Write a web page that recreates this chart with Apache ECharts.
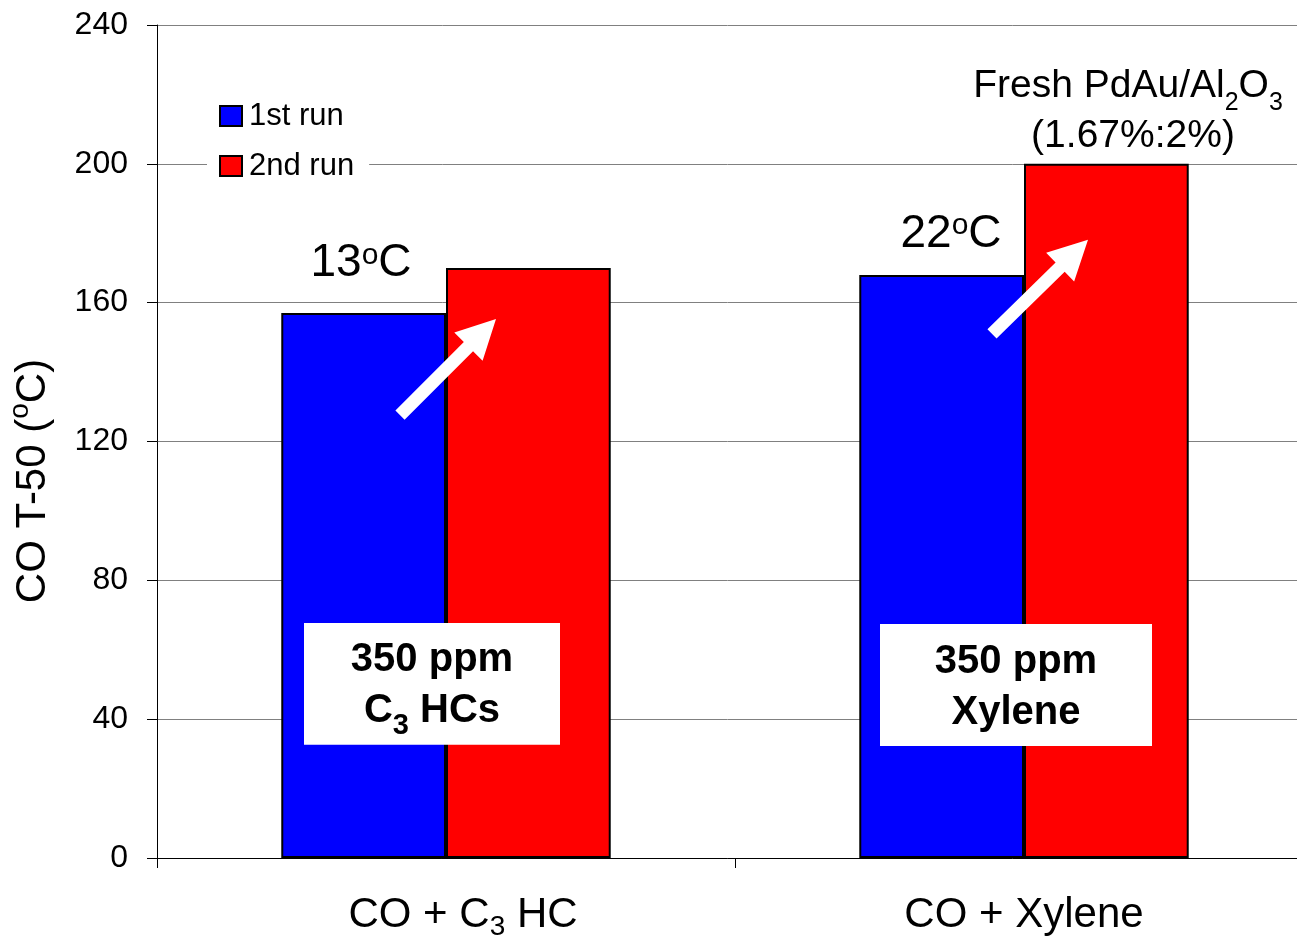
<!DOCTYPE html>
<html><head><meta charset="utf-8">
<script src="https://cdn.jsdelivr.net/npm/echarts@6/dist/echarts.min.js"></script>
<style>html,body{margin:0;padding:0;background:#fff}#c{width:1297px;height:938px}</style>
</head><body><div id="c"></div>
<script>
// ---- data ----
const categories = ['CO + C3 HC', 'CO + Xylene'];
const seriesNames = ['1st run', '2nd run'];
const run1 = [157, 168];
const run2 = [170, 200];
const yTicks = [0, 40, 80, 120, 160, 200, 240];
const deltaLabels = ['13', '22'];
const boxLines1 = ['350 ppm', '350 ppm'];
const boxLines2 = ['C3 HCs', 'Xylene'];
const noteLine1 = 'Fresh PdAu/Al2O3';
const noteLine2 = '(1.67%:2%)';

const FONT = '"Liberation Sans", Arial, Helvetica, sans-serif';

function subRich(v) {
  return '{m|' + v.replace(/([A-Za-z])(\d)/g, '$1}{s|$2}{m|') + '}';
}

const chart = echarts.init(document.getElementById('c'));
chart.setOption({
  animation: false,
  backgroundColor: '#fff',
  textStyle: { fontFamily: FONT, color: '#000' },
  grid: { left: 157, top: 25, width: 1156, height: 833, containLabel: false, outerBoundsMode: 'none' },
  legend: {
    orient: 'vertical', left: 207, top: 94, padding: [6, 15, 6, 12],
    backgroundColor: '#fff', itemWidth: 22, itemHeight: 20, itemGap: 18,
    icon: 'rect',
    textStyle: { fontSize: 31, color: '#000', fontFamily: FONT, lineHeight: 32, padding: [0, 0, 0, 2] },
    data: seriesNames
  },
  xAxis: {
    type: 'category', data: categories, boundaryGap: true,
    axisLine: { lineStyle: { color: '#000', width: 1 } },
    axisTick: { show: true, length: 10, interval: 0, lineStyle: { color: '#000' } },
    splitLine: { show: false },
    axisLabel: {
      interval: 0, margin: 31,
      formatter: function (v, i) { return (i === 0 ? '{g| }' : '') + subRich(v); },
      rich: {
        g: { width: 34, fontSize: 42, lineHeight: 52 },
        m: { fontSize: 42, lineHeight: 52, color: '#000', fontFamily: FONT },
        s: { fontSize: 28, color: '#000', fontFamily: FONT, padding: [24, 0, 0, 0] }
      }
    }
  },
  yAxis: {
    type: 'value', min: yTicks[0], max: yTicks[yTicks.length - 1], interval: yTicks[1] - yTicks[0],
    axisLine: { show: true, lineStyle: { color: '#000', width: 1 } },
    axisTick: { show: true, length: 10, lineStyle: { color: '#000' } },
    axisLabel: { fontSize: 32, color: '#000', margin: 29, fontFamily: FONT },
    splitLine: { show: true, lineStyle: { color: '#808080', width: 1 } }
  },
  series: [
    { name: seriesNames[0], type: 'bar', data: run1, barGap: '0%', barCategoryGap: '43%',
      itemStyle: { color: '#0000FF', borderColor: '#000', borderWidth: 2 } },
    { name: seriesNames[1], type: 'bar', data: run2, barGap: '0%', barCategoryGap: '43%',
      itemStyle: { color: '#FF0000', borderColor: '#000', borderWidth: 2 } }
  ]
});

// ---- annotations placed relative to the axes ----
function P(ci, dx, v) {
  const p = chart.convertToPixel({ xAxisIndex: 0, yAxisIndex: 0 }, [ci, v]);
  return [p[0] + dx, p[1]];
}
function arrow(a, b) {
  const dx = b[0] - a[0], dy = b[1] - a[1];
  const L = Math.sqrt(dx * dx + dy * dy);
  const ux = dx / L, uy = dy / L, nx = -uy, ny = ux;
  const hw = 6.5, hl = 39, hh = 20;
  const bx = b[0] - ux * hl, by = b[1] - uy * hl;
  return [
    [a[0] + nx * hw, a[1] + ny * hw], [bx + nx * hw, by + ny * hw], [bx + nx * hh, by + ny * hh],
    [b[0], b[1]],
    [bx - nx * hh, by - ny * hh], [bx - nx * hw, by - ny * hw], [a[0] - nx * hw, a[1] - ny * hw]
  ];
}
const g = [];
// y-axis title
g.push({
  type: 'text', x: 157 - 124, y: 481, rotation: Math.PI / 2, z: 100,
  style: {
    text: '{m|CO T-50 (}{o|o}{m|C)}', align: 'center', verticalAlign: 'middle',
    rich: {
      m: { fontSize: 42, fill: '#000', fontFamily: FONT },
      o: { fontSize: 28, fill: '#000', fontFamily: FONT, padding: [0, 0, 25, 0] }
    }
  }
});
const deltaPos = [[-85, 171.3], [-73, 179.8]];
const arrowPos = [[[-46, 127.6], [50, 155.3]], [[-32, 151.0], [64, 178.1]]];
const boxPos = [[-14, 256, 67.7, 32.6], [-8, 272, 67.4, 32.3]];
for (let i = 0; i < categories.length; i++) {
  const d = P(i, deltaPos[i][0], deltaPos[i][1]);
  g.push({
    type: 'text', x: d[0], y: d[1], z: 100,
    style: {
      text: '{m|' + deltaLabels[i] + '}{o|o}{m|C}', align: 'center', verticalAlign: 'middle',
      rich: {
        m: { fontSize: 46, fill: '#000', fontFamily: FONT },
        o: { fontSize: 30, fill: '#000', fontFamily: FONT, padding: [0, 0, 16, 0] }
      }
    }
  });
  const a = P(i, arrowPos[i][0][0], arrowPos[i][0][1]);
  const b = P(i, arrowPos[i][1][0], arrowPos[i][1][1]);
  g.push({ type: 'polygon', z: 100, shape: { points: arrow(a, b) }, style: { fill: '#fff' } });
  const bt = P(i, boxPos[i][0], boxPos[i][2]);
  const bb = P(i, boxPos[i][0], boxPos[i][3]);
  const w = boxPos[i][1];
  g.push({ type: 'rect', z: 100, shape: { x: bt[0] - w / 2, y: bt[1], width: w, height: bb[1] - bt[1] }, style: { fill: '#fff' } });
  g.push({
    type: 'text', x: bt[0], y: (bt[1] + bb[1]) / 2 + 2, z: 101,
    style: {
      text: subRich(boxLines1[i]).replace(/\{m\|/g, '{b|') + '\n' + subRich(boxLines2[i]).replace(/\{m\|/g, '{b|').replace(/\{s\|/g, '{bs|'),
      align: 'center', verticalAlign: 'middle',
      rich: {
        b: { fontSize: 40, fontWeight: 'bold', fill: '#000', fontFamily: FONT, lineHeight: 51 },
        bs: { fontSize: 29, fontWeight: 'bold', fill: '#000', fontFamily: FONT, lineHeight: 22, padding: [29, 0, 0, 0] }
      }
    }
  });
}
// catalyst note
const n1 = P(1, 104, 222.4), n2 = P(1, 109, 208.0);
g.push({
  type: 'text', x: n1[0], y: n1[1], z: 100,
  style: {
    text: subRich(noteLine1), align: 'center', verticalAlign: 'middle',
    rich: {
      m: { fontSize: 39, fill: '#000', fontFamily: FONT },
      s: { fontSize: 25, fill: '#000', fontFamily: FONT, padding: [34, 0, 0, 0] }
    }
  }
});
g.push({
  type: 'text', x: n2[0], y: n2[1], z: 100,
  style: { text: noteLine2, align: 'center', verticalAlign: 'middle', fontSize: 39, fill: '#000', fontFamily: FONT }
});
chart.setOption({ graphic: g });
</script>
</body></html>
